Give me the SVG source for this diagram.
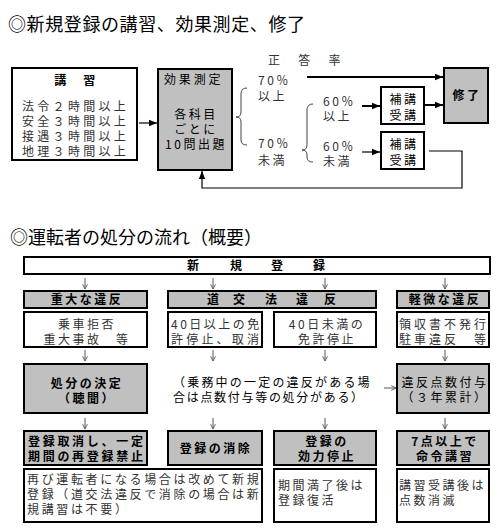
<svg xmlns="http://www.w3.org/2000/svg" width="500" height="530" viewBox="0 0 500 530">
<defs>
<style>
.box{fill:#fff;stroke:#000;stroke-width:2}
.gbox{fill:#c0c0c0;stroke:#000;stroke-width:2}
.t{font-family:"Noto Sans CJK JP","Noto Sans CJK SC",sans-serif;font-size:12px;fill:#333;letter-spacing:2.5px}
.h{font-family:"Noto Sans CJK JP","Noto Sans CJK SC",sans-serif;font-size:18px;fill:#000}
.b{font-weight:bold;fill:#000}
.k{fill:#000}
.c{text-anchor:middle}
.ln{stroke:#000;stroke-width:2;fill:none}
.ln1{stroke:#000;stroke-width:1.2;fill:none}
.br{stroke:#444;stroke-width:1;fill:none}
.dn{stroke:#555;stroke-width:1;fill:none}
</style>
<marker id="ahb" viewBox="0 0 10 10" refX="10" refY="5" markerWidth="8" markerHeight="8" markerUnits="userSpaceOnUse" orient="auto">
<path d="M0,1 L10,5 L0,9 z" fill="#000"/>
</marker>
<marker id="oa" viewBox="0 0 10 10" refX="9" refY="5" markerWidth="6" markerHeight="6" markerUnits="userSpaceOnUse" orient="auto">
<path d="M1,1 L9,5 L1,9" fill="none" stroke="#555" stroke-width="1.5"/>
</marker>
</defs>
<rect width="500" height="530" fill="#fff"/>

<text class="h" x="8" y="31" textLength="297">◎新規登録の講習、効果測定、修了</text>

<g id="kosyu">
<rect class="box" x="12" y="68" width="125" height="92"/>
<text class="t b c" x="76" y="85">講　習</text>
<text class="t" style="letter-spacing:3.3px"><tspan x="22" y="111">法令２時間以上</tspan><tspan x="22" y="126">安全３時間以上</tspan><tspan x="22" y="141">接遇３時間以上</tspan><tspan x="22" y="156">地理３時間以上</tspan></text>
</g>

<g id="kouka">
<rect class="gbox" x="158" y="69" width="74" height="101"/>
<text class="t k" x="164" y="84" textLength="59">効果測定</text>
<text class="t k c"><tspan x="196" y="119">各科目</tspan><tspan x="196" y="134">ごとに</tspan><tspan x="196" y="149">10問出題</tspan></text>
</g>

<g id="seitou">
<text class="t" x="268" y="65" textLength="75">正　答　率</text>
<path class="br" d="M247,88 Q241,88 241,94 L241,112 Q241,117 236,117 Q241,117 241,122 L241,140 Q241,145 247,145"/>
<text class="t"><tspan x="258" y="85">70％</tspan><tspan x="258" y="101">以上</tspan></text>
<text class="t"><tspan x="258" y="148">70％</tspan><tspan x="258" y="165">未満</tspan></text>
<path class="br" d="M313,104 Q307,104 307,110 L307,145 Q307,150 302,150 Q307,150 307,155 L307,157 Q307,162 313,162"/>
<text class="t"><tspan x="323" y="106">60％</tspan><tspan x="323" y="121">以上</tspan></text>
<text class="t"><tspan x="323" y="151">60％</tspan><tspan x="323" y="166">未満</tspan></text>
</g>

<g id="hokou1">
<rect class="box" x="381" y="87" width="43" height="37"/>
<text class="t k c"><tspan x="404" y="104">補講</tspan><tspan x="404" y="120">受講</tspan></text>
</g>
<g id="hokou2">
<rect class="box" x="381" y="132" width="43" height="37"/>
<text class="t k c"><tspan x="404" y="149">補講</tspan><tspan x="404" y="165">受講</tspan></text>
</g>
<g id="syuryo">
<rect class="gbox" x="444" y="68" width="44" height="55"/>
<text class="t b c" x="467" y="100">修了</text>
</g>

<g id="connectors-top">
<line class="ln1" x1="139" y1="123" x2="157" y2="123" marker-end="url(#ahb)"/>
<line class="ln" x1="307" y1="77" x2="443" y2="77" marker-end="url(#ahb)"/>
<line class="ln" x1="362" y1="106" x2="380" y2="106" marker-end="url(#ahb)"/>
<line class="ln" x1="425" y1="105" x2="443" y2="105" marker-end="url(#ahb)"/>
<line class="ln1" x1="362" y1="152" x2="380" y2="152" marker-end="url(#ahb)"/>
<polyline class="ln1" points="429,151 462,151 462,188 202,188 202,171" marker-end="url(#ahb)"/>
</g>

<text class="h" x="10" y="244">◎運転者の処分の流れ（概要）</text>

<g id="shinki">
<rect class="box" x="24" y="257" width="466" height="17"/>
<text class="t b" x="187 230 271 313" y="270">新規登録</text>
</g>

<g id="cat1"><rect class="gbox" x="24" y="291" width="123" height="17"/><text class="t b c" x="87" y="304">重大な違反</text></g>
<g id="cat2"><rect class="gbox" x="168" y="291" width="208" height="17"/><text class="t b" x="207 233 265 296 324" y="304">道交法違反</text></g>
<g id="cat3"><rect class="gbox" x="397" y="291" width="92" height="17"/><text class="t b c" x="445" y="304">軽微な違反</text></g>

<g id="det1"><rect class="box" x="24" y="312" width="123" height="35"/>
<text class="t c"><tspan x="87" y="329">乗車拒否</tspan><tspan x="87" y="344">重大事故　等</tspan></text></g>
<g id="det2"><rect class="box" x="168" y="312" width="94" height="35"/>
<text class="t"><tspan x="171" y="329">40日以上の免</tspan><tspan x="171" y="344" style="letter-spacing:3.2px">許停止、取消</tspan></text></g>
<g id="det3"><rect class="box" x="274" y="312" width="102" height="35"/>
<text class="t c"><tspan x="327" y="329">40日未満の</tspan><tspan x="327" y="344">免許停止</tspan></text></g>
<g id="det4"><rect class="box" x="397" y="312" width="92" height="35"/>
<text class="t" style="letter-spacing:3px"><tspan x="399" y="329">領収書不発行</tspan><tspan x="399" y="344">駐車違反　等</tspan></text></g>

<g id="kettei"><rect class="gbox" x="24" y="364" width="123" height="49"/>
<text class="t b c"><tspan x="87" y="388">処分の決定</tspan><tspan x="87" y="403">（聴聞）</tspan></text></g>
<g id="note"><text class="t k"><tspan x="173" y="387" style="letter-spacing:2.2px">（乗務中の一定の違反がある場</tspan><tspan x="173" y="402" style="letter-spacing:1.7px">合は点数付与等の処分がある）</tspan></text></g>
<g id="tensu"><rect class="gbox" x="397" y="364" width="92" height="49"/>
<text class="t k c"><tspan x="445" y="387">違反点数付与</tspan><tspan x="445" y="402">（３年累計）</tspan></text></g>

<g id="res1"><rect class="gbox" x="24" y="431" width="123" height="34"/>
<text class="t b" style="letter-spacing:2.7px"><tspan x="28" y="446">登録取消し、一定</tspan><tspan x="28" y="461">期間の再登録禁止</tspan></text></g>
<g id="res2"><rect class="gbox" x="168" y="431" width="94" height="34"/>
<text class="t b c" x="216" y="453">登録の消除</text></g>
<g id="res3"><rect class="gbox" x="274" y="431" width="102" height="34"/>
<text class="t b c"><tspan x="327" y="446">登録の</tspan><tspan x="327" y="461">効力停止</tspan></text></g>
<g id="res4"><rect class="gbox" x="397" y="431" width="92" height="34"/>
<text class="t b c"><tspan x="445" y="446">7点以上で</tspan><tspan x="445" y="461">命令講習</tspan></text></g>

<g id="note1"><rect class="box" x="24" y="469" width="238" height="53"/>
<text class="t" style="letter-spacing:2.65px"><tspan x="27" y="484">再び運転者になる場合は改めて新規</tspan><tspan x="27" y="499">登録（道交法違反で消除の場合は新</tspan><tspan x="27" y="514">規講習は不要）</tspan></text></g>
<g id="note2"><rect class="box" x="274" y="469" width="102" height="53"/>
<text class="t"><tspan x="278" y="490">期間満了後は</tspan><tspan x="278" y="505">登録復活</tspan></text></g>
<g id="note3"><rect class="box" x="397" y="469" width="92" height="53"/>
<text class="t"><tspan x="399" y="490">講習受講後は</tspan><tspan x="399" y="505">点数消滅</tspan></text></g>

<g id="connectors-bottom">
<line class="dn" x1="85" y1="278" x2="85" y2="289" marker-end="url(#oa)"/>
<line class="dn" x1="213" y1="278" x2="213" y2="289" marker-end="url(#oa)"/>
<line class="dn" x1="325" y1="278" x2="325" y2="289" marker-end="url(#oa)"/>
<line class="dn" x1="445" y1="278" x2="445" y2="289" marker-end="url(#oa)"/>
<line class="dn" x1="85" y1="350" x2="85" y2="361" marker-end="url(#oa)"/>
<line class="dn" x1="213" y1="350" x2="213" y2="361" marker-end="url(#oa)"/>
<line class="dn" x1="325" y1="350" x2="325" y2="361" marker-end="url(#oa)"/>
<line class="dn" x1="445" y1="350" x2="445" y2="361" marker-end="url(#oa)"/>
<line class="dn" x1="384" y1="388" x2="396" y2="388" marker-end="url(#oa)"/>
<line class="dn" x1="85" y1="418" x2="85" y2="429" marker-end="url(#oa)"/>
<line class="dn" x1="213" y1="418" x2="213" y2="429" marker-end="url(#oa)"/>
<line class="dn" x1="325" y1="418" x2="325" y2="429" marker-end="url(#oa)"/>
<line class="dn" x1="445" y1="418" x2="445" y2="429" marker-end="url(#oa)"/>
</g>
</svg>
